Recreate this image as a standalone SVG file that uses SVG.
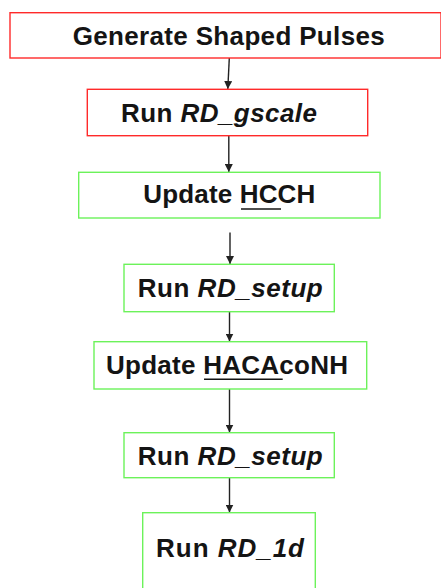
<svg xmlns="http://www.w3.org/2000/svg" width="441" height="588" viewBox="0 0 441 588">
  <style>
    .box { fill: #ffffff; stroke-width: 1.4; }
    .red { stroke: #ff2a2a; }
    .green { stroke: #6cf25a; }
    .lbl { font-family: "Liberation Sans", Arial, sans-serif; font-size: 26px; font-weight: bold; fill: #141414; }
    .it { font-style: italic; }
    .ul { stroke: #141414; stroke-width: 1.5; }
    .edge { stroke: #222222; stroke-width: 1.4; fill: none; marker-end: url(#arrow); }
  </style>
  <defs>
    <marker id="arrow" viewBox="0 0 10 10" refX="10" refY="5" markerWidth="8" markerHeight="8" markerUnits="userSpaceOnUse" orient="auto">
      <path d="M0,0 L10,5 L0,10 Z" fill="#222222"/>
    </marker>
  </defs>
  <rect width="441" height="588" fill="#ffffff"/>

  <g id="connectors">
    <line class="edge" x1="229.3" y1="58" x2="227.8" y2="89"/>
    <line class="edge" x1="228.8" y1="136" x2="228.8" y2="172"/>
    <line class="edge" x1="230" y1="232.5" x2="230" y2="264"/>
    <line class="edge" x1="229.5" y1="312" x2="229.5" y2="341.5"/>
    <line class="edge" x1="229.5" y1="389" x2="229.5" y2="432.5"/>
    <line class="edge" x1="229.5" y1="478" x2="229.5" y2="512.5"/>
  </g>

  <g id="generate-shaped-pulses">
    <rect class="box red" x="10" y="12.7" width="431" height="45.3"/>
    <text class="lbl" x="72.7" y="45" textLength="312" lengthAdjust="spacing">Generate Shaped Pulses</text>
  </g>

  <g id="run-rd-gscale">
    <rect class="box red" x="87.3" y="89.3" width="280.4" height="46.4"/>
    <text class="lbl" x="121" y="121.7" textLength="196" lengthAdjust="spacing">Run <tspan class="it">RD_gscale</tspan></text>
  </g>

  <g id="update-hcch">
    <rect class="box green" x="78.7" y="172.3" width="301.3" height="45.7"/>
    <text class="lbl" x="143.3" y="203.3" textLength="172" lengthAdjust="spacing">Update HCCH</text>
    <line class="ul" x1="241" y1="209" x2="281" y2="209"/>
  </g>

  <g id="run-rd-setup-1">
    <rect class="box green" x="124" y="264.3" width="210.3" height="47.4"/>
    <text class="lbl" x="137.7" y="296.5" textLength="185" lengthAdjust="spacing">Run <tspan class="it">RD_setup</tspan></text>
  </g>

  <g id="update-hacaconh">
    <rect class="box green" x="94" y="341.7" width="272.7" height="47.3"/>
    <text class="lbl" x="106" y="374" textLength="242" lengthAdjust="spacing">Update HACAcoNH</text>
    <line class="ul" x1="204" y1="379.3" x2="282.7" y2="379.3"/>
  </g>

  <g id="run-rd-setup-2">
    <rect class="box green" x="124" y="432.7" width="210.3" height="45"/>
    <text class="lbl" x="137.7" y="465" textLength="185" lengthAdjust="spacing">Run <tspan class="it">RD_setup</tspan></text>
  </g>

  <g id="run-rd-1d">
    <rect class="box green" x="142.7" y="512.7" width="172.6" height="90"/>
    <text class="lbl" x="156" y="556.7" textLength="148" lengthAdjust="spacing">Run <tspan class="it">RD_1d</tspan></text>
  </g>
</svg>
